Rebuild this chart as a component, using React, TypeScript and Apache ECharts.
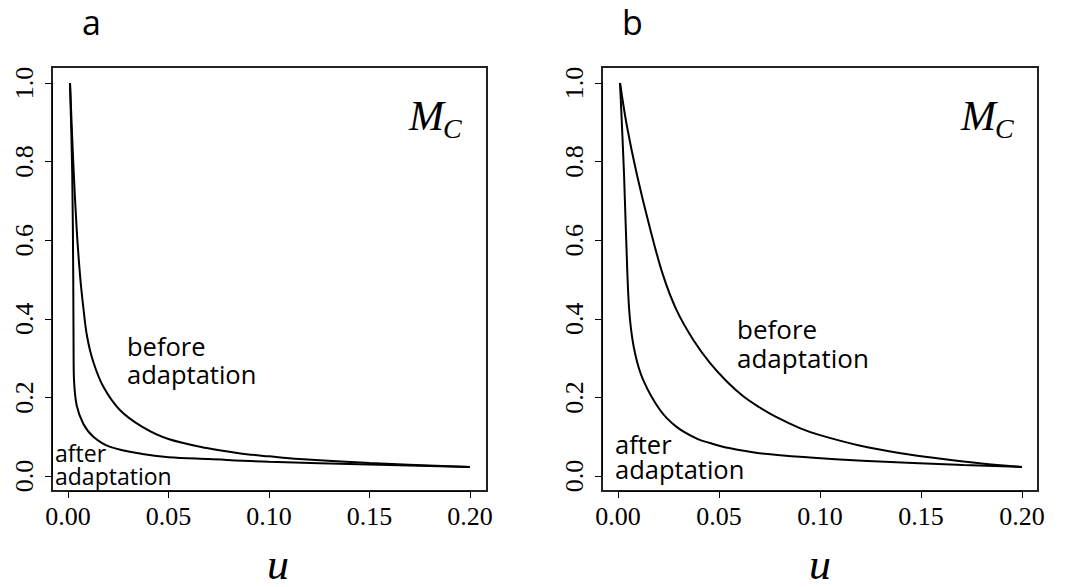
import React, { useEffect, useRef } from "react";
import * as echarts from "echarts";

// Panel a
const uBeforeA = [0.001, 0.0026, 0.0043, 0.006, 0.0076, 0.0095, 0.0126, 0.0176, 0.0258, 0.037, 0.05, 0.069, 0.085, 0.1, 0.115, 0.15, 0.2];
const mBeforeA = [1.0, 0.8, 0.63, 0.51, 0.43, 0.355, 0.29, 0.227, 0.168, 0.125, 0.094, 0.071, 0.058, 0.05, 0.043, 0.033, 0.023];
const uAfterA = [0.001, 0.0021, 0.0026, 0.0028, 0.003, 0.0043, 0.0076, 0.0126, 0.021, 0.037, 0.05, 0.07, 0.1, 0.15, 0.2];
const mAfterA = [1.0, 0.77, 0.51, 0.3, 0.244, 0.18, 0.133, 0.1, 0.074, 0.056, 0.048, 0.043, 0.036, 0.029, 0.023];

// Panel b
const uBeforeB = [0.001, 0.0045, 0.0094, 0.0158, 0.0223, 0.029, 0.0373, 0.0455, 0.054, 0.062, 0.07, 0.078, 0.09, 0.1, 0.12, 0.14, 0.16, 0.18, 0.2];
const mBeforeB = [1.0, 0.888, 0.766, 0.631, 0.511, 0.422, 0.346, 0.288, 0.24, 0.203, 0.175, 0.151, 0.122, 0.104, 0.077, 0.058, 0.044, 0.032, 0.023];
const uAfterB = [0.001, 0.003, 0.0046, 0.0059, 0.0084, 0.0125, 0.0208, 0.029, 0.039, 0.0455, 0.055, 0.07, 0.095, 0.121, 0.171, 0.2];
const mAfterB = [1.0, 0.766, 0.52, 0.4, 0.313, 0.244, 0.168, 0.125, 0.095, 0.084, 0.071, 0.058, 0.047, 0.039, 0.028, 0.023];

const xTicks = { min: 0, max: 0.2, interval: 0.05 };
const yTicks = { min: 0, max: 1, interval: 0.2 };
const panelLabels = ["a", "b"];
const curveLabels = [["before", "adaptation"], ["after", "adaptation"]];

const zip = (u: number[], m: number[]) => u.map((v, i) => [v, m[i]]);

export default function App() {
  const ref = useRef<HTMLDivElement>(null);
  useEffect(() => {
    const chart = echarts.init(ref.current!, null, { renderer: "svg" });
    const serif = "'Liberation Serif', 'DejaVu Serif', serif";
    const sans = "'Open Sans', 'Noto Sans', sans-serif";
    const grids = [
      { left: 68, top: 83, width: 402, height: 393 },
      { left: 618, top: 83, width: 404, height: 393 },
    ];
    const xAxis = grids.map((_, i) => ({
      type: "value",
      gridIndex: i,
      ...xTicks,
      offset: 15,
      splitLine: { show: false },
      axisLine: { show: true, onZero: false, lineStyle: { color: "#000", width: 1 } },
      axisTick: { show: true, length: 7, lineStyle: { color: "#000", width: 1 } },
      axisLabel: {
        margin: 12,
        fontFamily: serif,
        fontSize: 26,
        color: "#000",
        formatter: (v: number) => v.toFixed(2),
      },
    }));
    const yAxis = grids.map((_, i) => ({
      type: "value",
      gridIndex: i,
      ...yTicks,
      offset: 16,
      splitLine: { show: false },
      axisLine: { show: true, onZero: false, lineStyle: { color: "#000", width: 1 } },
      axisTick: { show: true, length: 7, lineStyle: { color: "#000", width: 1 } },
      axisLabel: {
        margin: 15,
        rotate: 90,
        fontFamily: serif,
        fontSize: 26,
        color: "#000",
        formatter: (v: number) => v.toFixed(1),
      },
    }));
    const lineStyle = { color: "#000", width: 2 };
    const mk = (data: number[][], i: number) => ({
      type: "line",
      xAxisIndex: i,
      yAxisIndex: i,
      data,
      showSymbol: false,
      smooth: 0.35,
      lineStyle,
      silent: true,
    });
    const series = [
      mk(zip(uBeforeA, mBeforeA), 0),
      mk(zip(uAfterA, mAfterA), 0),
      mk(zip(uBeforeB, mBeforeB), 1),
      mk(zip(uAfterB, mAfterB), 1),
    ];
    const txt = (text: string, x: number, y: number, font: string, extra: any = {}) => ({
      type: "text",
      x,
      y,
      silent: true,
      style: { text, font, fill: "#000", align: "left", verticalAlign: "middle", ...extra },
    });
    // two-line label: y values are the middles of each line
    const two = (lines: string[], x: number, y1: number, y2: number, size: number) => [
      txt(lines[0], x, y1, `${size}px ${sans}`, { lineHeight: size }),
      txt(lines[1], x, y2, `${size}px ${sans}`, { lineHeight: size }),
    ];
    const graphic: any[] = [
      { type: "rect", shape: { x: 52, y: 67, width: 435, height: 424 }, style: { fill: "none", stroke: "#222", lineWidth: 2 }, silent: true },
      { type: "rect", shape: { x: 602, y: 67, width: 436, height: 424 }, style: { fill: "none", stroke: "#222", lineWidth: 2 }, silent: true },
      txt(panelLabels[0], 82, 22, `34px ${sans}`, { lineHeight: 30 }),
      txt(panelLabels[1], 622, 22, `34px ${sans}`, { lineHeight: 30 }),
      // M_C labels
      txt("M", 409, 116, `italic 42px ${serif}`),
      txt("C", 443, 128, `italic 28px ${serif}`),
      txt("M", 961, 116, `italic 42px ${serif}`),
      txt("C", 995, 128, `italic 28px ${serif}`),
      // u axis titles
      txt("u", 278, 564, `italic 44px ${serif}`, { align: "center" }),
      txt("u", 820, 564, `italic 44px ${serif}`, { align: "center" }),
      // curve labels
      ...two(curveLabels[0], 127, 346, 374, 25.5),
      ...two(curveLabels[1], 55, 452.5, 476, 23),
      ...two(curveLabels[0], 737, 328.5, 357.5, 26),
      ...two(curveLabels[1], 615, 443.5, 469, 25.5),
    ];
    chart.setOption({
      animation: false,
      backgroundColor: "#fff",
      grid: grids,
      xAxis,
      yAxis,
      series,
      graphic,
    } as any);
    return () => chart.dispose();
  }, []);
  return <div ref={ref} style={{ position: "absolute", left: 0, top: 0, width: 1069, height: 587 }} />;
}
